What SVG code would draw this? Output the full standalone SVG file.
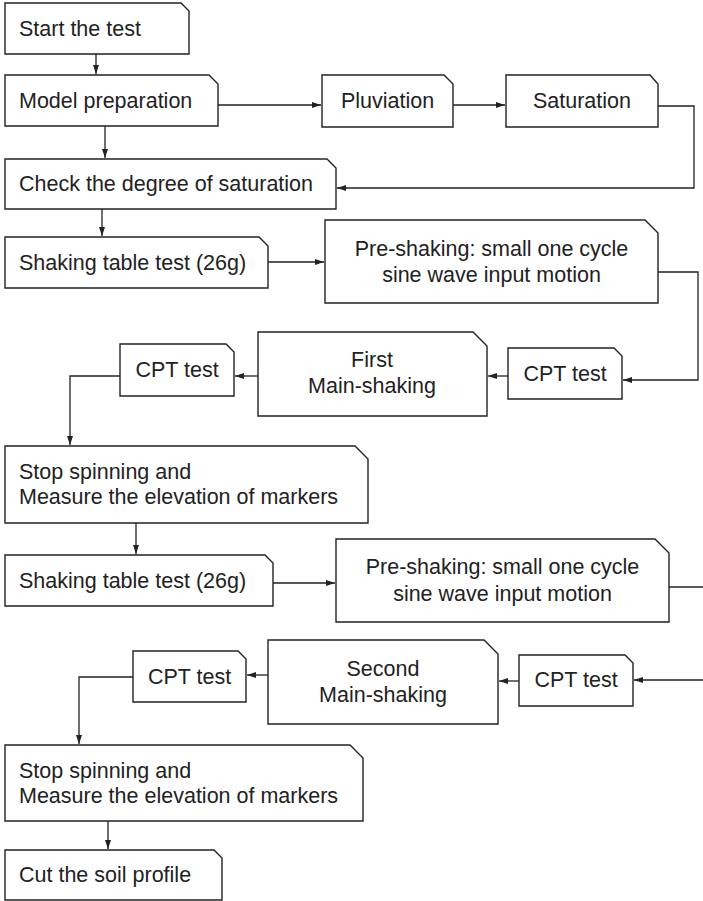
<svg xmlns="http://www.w3.org/2000/svg" width="703" height="901" viewBox="0 0 703 901">
<style>
.box{fill:#fff;stroke:#222;stroke-width:1.4}
.c{fill:none;stroke:#222;stroke-width:1.3}
text{font-family:"Liberation Sans",Arial,sans-serif;font-size:21.5px;fill:#222}
.m{text-anchor:middle}
</style>
<defs>
<marker id="ah" markerUnits="userSpaceOnUse" markerWidth="10" markerHeight="8" refX="9" refY="3" orient="auto">
<path d="M0,0 L9,3 L0,6 z" fill="#222"/>
</marker>
</defs>
<rect width="703" height="901" fill="#fff"/>
<g id="connectors">
<path class="c" d="M96 54 V74" marker-end="url(#ah)"/>
<path class="c" d="M105 126 V158" marker-end="url(#ah)"/>
<path class="c" d="M218 105 H321" marker-end="url(#ah)"/>
<path class="c" d="M453 105 H505" marker-end="url(#ah)"/>
<path class="c" d="M658 106 H694 V188 H337" marker-end="url(#ah)"/>
<path class="c" d="M102 209 V236" marker-end="url(#ah)"/>
<path class="c" d="M268 262 H324" marker-end="url(#ah)"/>
<path class="c" d="M658 272 H698 V380 H623" marker-end="url(#ah)"/>
<path class="c" d="M508 376 H488" marker-end="url(#ah)"/>
<path class="c" d="M258 376 H235" marker-end="url(#ah)"/>
<path class="c" d="M120 376 H70 V445" marker-end="url(#ah)"/>
<path class="c" d="M136 523 V554" marker-end="url(#ah)"/>
<path class="c" d="M273 583 H335" marker-end="url(#ah)"/>
<path class="c" d="M669 587 H703"/>
<path class="c" d="M703 680 H634" marker-end="url(#ah)"/>
<path class="c" d="M519 681 H499" marker-end="url(#ah)"/>
<path class="c" d="M268 675 H247" marker-end="url(#ah)"/>
<path class="c" d="M133 677 H79 V744" marker-end="url(#ah)"/>
<path class="c" d="M108 821 V849" marker-end="url(#ah)"/>
</g>
<g id="start"><path class="box" d="M5 3 H181 L189 11 V54 H5 Z"/><text x="19" y="36">Start the test</text></g>
<g id="model"><path class="box" d="M5 75 H209 L218 84 V126 H5 Z"/><text x="19" y="108">Model preparation</text></g>
<g id="pluviation"><path class="box" d="M322 75 H444 L453 84 V127 H322 Z"/><text class="m" x="387.5" y="108">Pluviation</text></g>
<g id="saturation"><path class="box" d="M506 75 H650 L658 84 V127 H506 Z"/><text class="m" x="582" y="108">Saturation</text></g>
<g id="check"><path class="box" d="M5 159 H327 L336 168 V209 H5 Z"/><text x="19" y="191">Check the degree of saturation</text></g>
<g id="shake1"><path class="box" d="M5 237 H259 L268 246 V288 H5 Z"/><text x="19" y="270">Shaking table test (26g)</text></g>
<g id="pre1"><path class="box" d="M325 220 H645 L658 233 V303 H325 Z"/><text class="m" x="491.5" y="256">Pre-shaking: small one cycle</text><text class="m" x="491.5" y="282">sine wave input motion</text></g>
<g id="cptR1"><path class="box" d="M508 348 H614 L622 356 V399 H508 Z"/><text class="m" x="565" y="381">CPT test</text></g>
<g id="main1"><path class="box" d="M258 332 H473 L487 346 V416 H258 Z"/><text class="m" x="372" y="367">First</text><text class="m" x="372" y="393">Main-shaking</text></g>
<g id="cptL1"><path class="box" d="M120 344 H226 L234 352 V396 H120 Z"/><text class="m" x="177" y="377">CPT test</text></g>
<g id="stop1"><path class="box" d="M5 446 H355 L368 459 V523 H5 Z"/><text x="19" y="479">Stop spinning and</text><text x="19" y="504">Measure the elevation of markers</text></g>
<g id="shake2"><path class="box" d="M5 555 H265 L273 563 V606 H5 Z"/><text x="19" y="588">Shaking table test (26g)</text></g>
<g id="pre2"><path class="box" d="M336 539 H655 L669 553 V622 H336 Z"/><text class="m" x="502.5" y="574">Pre-shaking: small one cycle</text><text class="m" x="502.5" y="601">sine wave input motion</text></g>
<g id="cptR2"><path class="box" d="M519 655 H625 L633 663 V706 H519 Z"/><text class="m" x="576" y="687">CPT test</text></g>
<g id="main2"><path class="box" d="M268 640 H484 L498 654 V724 H268 Z"/><text class="m" x="383" y="676">Second</text><text class="m" x="383" y="702">Main-shaking</text></g>
<g id="cptL2"><path class="box" d="M133 651 H238 L246 659 V702 H133 Z"/><text class="m" x="189.5" y="684">CPT test</text></g>
<g id="stop2"><path class="box" d="M5 745 H350 L363 758 V821 H5 Z"/><text x="19" y="778">Stop spinning and</text><text x="19" y="803">Measure the elevation of markers</text></g>
<g id="cut"><path class="box" d="M5 850 H214 L222 858 V900 H5 Z"/><text x="19" y="882">Cut the soil profile</text></g>
</svg>
